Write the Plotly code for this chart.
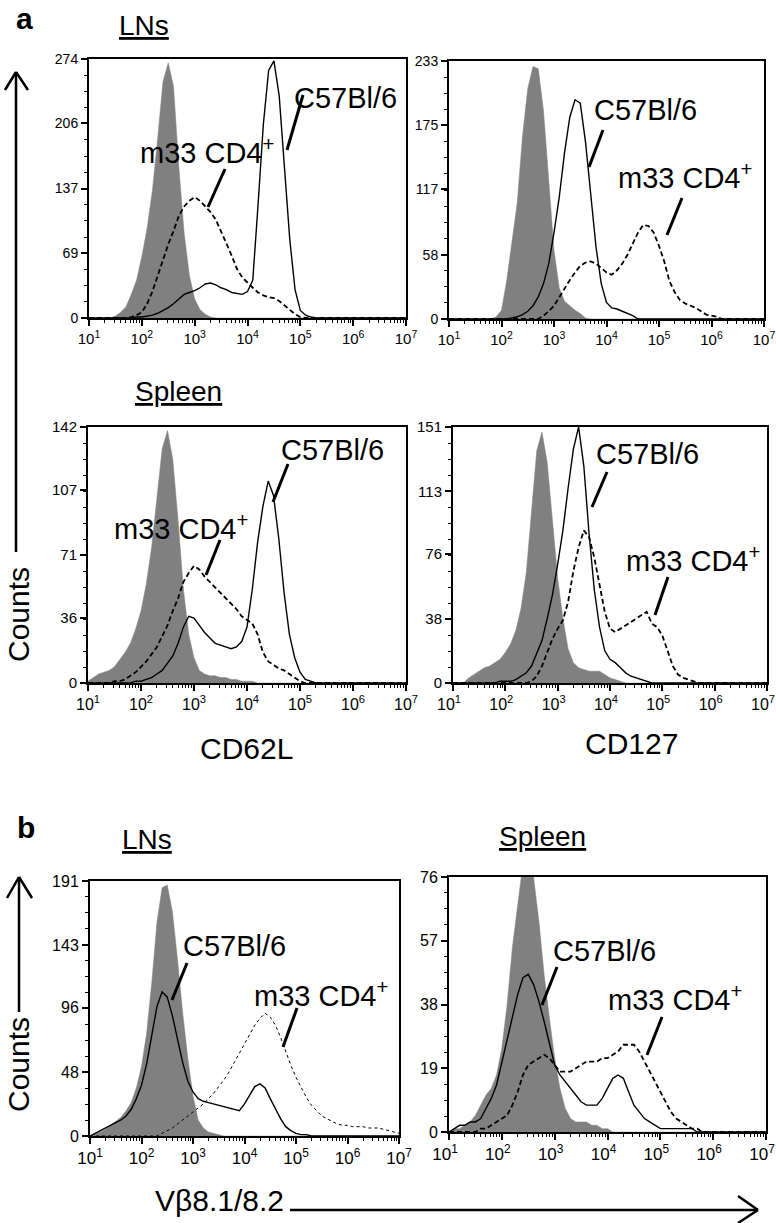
import plotly.graph_objects as go

W, H = 776, 1223

# log10 fluorescence bin centres (10^1 .. 10^7)
BINS = [1.0, 1.1, 1.2, 1.3, 1.4, 1.5, 1.6, 1.7, 1.8, 1.9,
        2.0, 2.1, 2.2, 2.3, 2.4, 2.5, 2.6, 2.7, 2.8, 2.9,
        3.0, 3.1, 3.2, 3.3, 3.4, 3.5, 3.6, 3.7, 3.8, 3.9,
        4.0, 4.1, 4.2, 4.3, 4.4, 4.5, 4.6, 4.7, 4.8, 4.9,
        5.0, 5.1, 5.2, 5.3, 5.4, 5.5, 5.6, 5.7, 5.8, 5.9,
        6.0, 6.1, 6.2, 6.3, 6.4, 6.5, 6.6, 6.7, 6.8, 6.9,
        7.0]

XTICK_EXP = [1, 2, 3, 4, 5, 6, 7]
XTICK_TEXT = ["10<sup>1</sup>", "10<sup>2</sup>", "10<sup>3</sup>", "10<sup>4</sup>",
              "10<sup>5</sup>", "10<sup>6</sup>", "10<sup>7</sup>"]

# (a) LNs, CD62L
LN_CD62L_CTRL = [0, 0, 0, 0, 0, 2, 6, 12, 25, 40,
                 65, 95, 135, 190, 250, 270, 245, 160, 90, 45,
                 20, 9, 4, 1, 0, 0, 0, 0, 0, 0,
                 0, 0, 0, 0, 0, 0, 0, 0, 0, 0,
                 0, 0, 0, 0, 0, 0, 0, 0, 0, 0,
                 0, 0, 0, 0, 0, 0, 0, 0, 0, 0,
                 0]
LN_CD62L_B6 = [0, 0, 0, 0, 0, 0, 0, 0, 0, 1,
               1, 2, 3, 5, 8, 11, 15, 20, 25, 27,
               29, 32, 36, 37, 35, 32, 30, 27, 26, 25,
               28, 40, 120, 205, 262, 272, 235, 160, 83, 30,
               8, 3, 1, 0, 0, 0, 0, 0, 0, 0,
               0, 0, 0, 0, 0, 0, 0, 0, 0, 0,
               0]
LN_CD62L_M33 = [0, 0, 0, 0, 0, 0, 0, 0, 1, 3,
                6, 15, 28, 45, 62, 78, 92, 108, 118, 124,
                128, 124, 118, 112, 104, 92, 79, 66, 52, 43,
                37, 32, 27, 24, 22, 21, 18, 13, 8, 4,
                1, 0, 0, 0, 0, 0, 0, 0, 0, 0,
                0, 0, 0, 0, 0, 0, 0, 0, 0, 0,
                0]
LN_CD62L_YTICKS = [0, 69, 137, 206, 274]

# (a) LNs, CD127
LN_CD127_CTRL = [0, 0, 0, 0, 0, 0, 0, 0, 0, 2,
                 8, 35, 68, 105, 165, 208, 228, 226, 188, 125,
                 62, 28, 16, 12, 8, 5, 1, 0, 0, 0,
                 0, 0, 0, 0, 0, 0, 0, 0, 0, 0,
                 0, 0, 0, 0, 0, 0, 0, 0, 0, 0,
                 0, 0, 0, 0, 0, 0, 0, 0, 0, 0,
                 0]
LN_CD127_B6 = [0, 0, 0, 0, 0, 0, 0, 0, 0, 0,
               0, 0, 1, 2, 4, 7, 12, 20, 32, 50,
               78, 110, 150, 182, 198, 195, 160, 112, 65, 32,
               15, 10, 9, 7, 5, 3, 0, 0, 0, 0,
               0, 0, 0, 0, 0, 0, 0, 0, 0, 0,
               0, 0, 0, 0, 0, 0, 0, 0, 0, 0,
               0]
LN_CD127_M33 = [0, 0, 0, 0, 0, 0, 0, 0, 0, 0,
                0, 0, 0, 0, 0, 0, 0, 0, 3, 7,
                12, 20, 28, 35, 42, 48, 51, 52, 50, 46,
                42, 40, 44, 50, 58, 68, 78, 85, 84, 78,
                66, 52, 34, 24, 17, 14, 12, 10, 7, 4,
                3, 2, 0, 0, 0, 0, 0, 0, 0, 0,
                0]
LN_CD127_YTICKS = [0, 58, 117, 175, 233]

# (a) Spleen, CD62L
SP_CD62L_CTRL = [1, 3, 5, 6, 7, 9, 13, 17, 22, 30,
                 40, 55, 75, 103, 130, 140, 124, 90, 52, 27,
                 14, 7, 5, 4, 4, 3, 3, 2, 2, 1,
                 1, 1, 0, 0, 0, 0, 0, 0, 0, 0,
                 0, 0, 0, 0, 0, 0, 0, 0, 0, 0,
                 0, 0, 0, 0, 0, 0, 0, 0, 0, 0,
                 0]
SP_CD62L_B6 = [0, 0, 0, 0, 0, 0, 0, 0, 0, 1,
               1, 2, 3, 5, 7, 11, 15, 22, 31, 37,
               36, 32, 28, 25, 22, 21, 20, 19, 20, 23,
               31, 52, 78, 98, 112, 104, 80, 50, 27, 14,
               6, 2, 1, 0, 0, 0, 0, 0, 0, 0,
               0, 0, 0, 0, 0, 0, 0, 0, 0, 0,
               0]
SP_CD62L_M33 = [0, 0, 0, 0, 0, 1, 1, 2, 4, 6,
                9, 12, 16, 20, 26, 32, 40, 47, 56, 61,
                65, 63, 59, 56, 53, 50, 47, 44, 41, 37,
                35, 33, 27, 17, 12, 10, 8, 7, 5, 3,
                1, 0, 0, 0, 0, 0, 0, 0, 0, 0,
                0, 0, 0, 0, 0, 0, 0, 0, 0, 0,
                0]
SP_CD62L_YTICKS = [0, 36, 71, 107, 142]

# (a) Spleen, CD127
SP_CD127_CTRL = [0, 0, 0, 3, 5, 7, 9, 10, 12, 14,
                 18, 23, 31, 44, 65, 100, 137, 148, 130, 96,
                 62, 38, 20, 12, 9, 8, 7, 7, 7, 5,
                 3, 2, 1, 0, 0, 0, 0, 0, 0, 0,
                 0, 0, 0, 0, 0, 0, 0, 0, 0, 0,
                 0, 0, 0, 0, 0, 0, 0, 0, 0, 0,
                 0]
SP_CD127_B6 = [0, 0, 0, 0, 0, 0, 0, 0, 0, 1,
               1, 1, 2, 4, 6, 10, 17, 25, 38, 52,
               70, 90, 115, 138, 151, 128, 88, 55, 33, 19,
               14, 12, 9, 6, 4, 3, 2, 1, 0, 0,
               0, 0, 0, 0, 0, 0, 0, 0, 0, 0,
               0, 0, 0, 0, 0, 0, 0, 0, 0, 0,
               0]
SP_CD127_M33 = [0, 0, 0, 0, 0, 0, 0, 0, 0, 0,
                0, 0, 0, 0, 0, 1, 4, 10, 18, 26,
                32, 37, 48, 66, 80, 90, 86, 74, 58, 42,
                32, 30, 32, 34, 36, 38, 40, 42, 35, 33,
                28, 19, 10, 5, 3, 2, 1, 0, 0, 0,
                0, 0, 0, 0, 0, 0, 0, 0, 0, 0,
                0]
SP_CD127_YTICKS = [0, 38, 76, 113, 151]

# (b) LNs, Vbeta8.1/8.2
LN_VB_CTRL = [0, 2, 3, 5, 8, 11, 14, 19, 25, 36,
              52, 77, 115, 160, 186, 188, 168, 132, 92, 58,
              30, 12, 6, 3, 2, 1, 0, 0, 0, 0,
              0, 0, 0, 0, 0, 0, 0, 0, 0, 0,
              0, 0, 0, 0, 0, 0, 0, 0, 0, 0,
              0, 0, 0, 0, 0, 0, 0, 0, 0, 0,
              0]
LN_VB_B6 = [0, 2, 4, 6, 8, 10, 12, 15, 20, 28,
            38, 54, 75, 97, 108, 104, 90, 72, 55, 41,
            33, 28, 26, 25, 24, 23, 22, 21, 20, 19,
            24, 31, 37, 39, 36, 28, 20, 13, 7, 4,
            2, 1, 1, 0, 0, 0, 0, 0, 0, 0,
            0, 0, 0, 0, 0, 0, 0, 0, 0, 0,
            0]
LN_VB_M33 = [0, 0, 0, 0, 0, 0, 0, 0, 0, 0,
             0, 0, 0, 0, 2, 4, 6, 9, 12, 15,
             18, 21, 24, 28, 32, 37, 42, 48, 55, 62,
             70, 77, 83, 88, 92, 89, 83, 74, 63, 53,
             44, 36, 29, 23, 19, 15, 13, 11, 9, 8,
             8, 7, 7, 7, 6, 6, 6, 5, 4, 3,
             2]
LN_VB_YTICKS = [0, 48, 96, 143, 191]

# (b) Spleen, Vbeta8.1/8.2
SP_VB_CTRL = [0, 1, 1, 2, 3, 5, 8, 11, 13, 17,
              25, 38, 55, 68, 80, 84, 76, 63, 47, 34,
              22, 13, 7, 4, 3, 3, 3, 2, 2, 1,
              1, 0, 0, 0, 0, 0, 0, 0, 0, 0,
              0, 0, 0, 0, 0, 0, 0, 0, 0, 0,
              0, 0, 0, 0, 0, 0, 0, 0, 0, 0,
              0]
SP_VB_B6 = [0, 1, 2, 2, 3, 3, 4, 7, 10, 14,
            21, 28, 35, 41, 46, 47, 44, 39, 33, 26,
            20, 17, 15, 13, 11, 9, 8, 8, 8, 10,
            13, 16, 17, 16, 12, 8, 6, 4, 3, 2,
            1, 1, 1, 1, 1, 1, 1, 0, 0, 0,
            0, 0, 0, 0, 0, 0, 0, 0, 0, 0,
            0]
SP_VB_M33 = [0, 0, 0, 0, 0, 0, 1, 1, 2, 3,
             4, 5, 8, 12, 17, 20, 21, 22, 23, 22,
             20, 18, 18, 18, 19, 20, 21, 21, 21, 22,
             22, 23, 24, 26, 26, 26, 24, 21, 18, 15,
             12, 9, 6, 4, 3, 2, 1, 1, 0, 0,
             0, 0, 0, 0, 0, 0, 0, 0, 0, 0,
             0]
SP_VB_YTICKS = [0, 19, 38, 57, 76]

FONT = "Liberation Sans, Arial, Helvetica, sans-serif"
GREY = "#808080"


def px(x):
    return x / W


def py(y):
    return 1 - y / H


# panel boxes in pixels: left, right, top, bottom; tick font size; x label shift
panels = [
    (LN_CD62L_CTRL, LN_CD62L_M33, LN_CD62L_B6, LN_CD62L_YTICKS, (89, 406, 59, 318), 14, 0),
    (LN_CD127_CTRL, LN_CD127_M33, LN_CD127_B6, LN_CD127_YTICKS, (449, 764, 61, 319), 14, 0),
    (SP_CD62L_CTRL, SP_CD62L_M33, SP_CD62L_B6, SP_CD62L_YTICKS, (88, 406, 427, 683), 15, 0),
    (SP_CD127_CTRL, SP_CD127_M33, SP_CD127_B6, SP_CD127_YTICKS, (453, 767, 427, 683), 15, -4),
    (LN_VB_CTRL, LN_VB_M33, LN_VB_B6, LN_VB_YTICKS, (90, 399, 881, 1136), 16, 0),
    (SP_VB_CTRL, SP_VB_M33, SP_VB_B6, SP_VB_YTICKS, (449, 766, 877, 1132), 16, -4),
]

xs = [10 ** b for b in BINS]
fig = go.Figure()
layout = {}
for i, (ctrl, m33, b6, yticks, box, fsize, shift) in enumerate(panels, start=1):
    sx = "" if i == 1 else str(i)
    l, r, t, b = box
    thin_dash = i == 5
    fig.add_trace(go.Scatter(x=xs, y=ctrl, mode="lines", fill="tozeroy",
                             fillcolor=GREY, line=dict(color=GREY, width=0.5),
                             xaxis="x" + sx, yaxis="y" + sx, showlegend=False))
    fig.add_trace(go.Scatter(x=xs, y=m33, mode="lines",
                             line=dict(color="black", width=1.0 if thin_dash else 1.8,
                                       dash="3px,3px" if thin_dash else "5px,3px"),
                             xaxis="x" + sx, yaxis="y" + sx, showlegend=False))
    fig.add_trace(go.Scatter(x=xs, y=b6, mode="lines",
                             line=dict(color="black", width=1.4),
                             xaxis="x" + sx, yaxis="y" + sx, showlegend=False))
    ymax = yticks[-1]
    layout["xaxis" + sx] = dict(
        type="log", range=[1, 7], domain=[px(l), px(r)], anchor="y" + sx,
        automargin=False, ticklabeloverflow="allow", ticklabelshift=shift,
        showgrid=False, zeroline=False, showline=True, linecolor="black",
        linewidth=2, mirror=True, ticks="outside", ticklen=6, tickwidth=1.5,
        tickcolor="black", tickmode="array",
        tickvals=[10 ** e for e in XTICK_EXP], ticktext=XTICK_TEXT,
        tickfont=dict(family=FONT, size=fsize + 1, color="black"),
        minor=dict(ticks="outside", ticklen=3, tickwidth=1, tickcolor="black",
                   dtick="D1", showgrid=False),
    )
    layout["yaxis" + sx] = dict(
        range=[0, ymax], domain=[py(b), py(t)], anchor="x" + sx,
        automargin=False,
        showgrid=False, zeroline=False, showline=True, linecolor="black",
        linewidth=2, mirror=True, ticks="outside", ticklen=6, tickwidth=1.5,
        tickcolor="black", tickmode="array", tickvals=yticks,
        ticktext=[str(v) for v in yticks],
        tickfont=dict(family=FONT, size=fsize, color="black"),
        minor=dict(ticks="outside", ticklen=3, tickwidth=1, tickcolor="black",
                   tick0=0, dtick=ymax / 16, showgrid=False),
    )


def label(text, x, y, size=29, **kw):
    return dict(text=text, x=px(x), y=py(y), xref="paper", yref="paper",
                showarrow=False, xanchor="center", yanchor="middle",
                font=dict(family=FONT, size=size, color="black", **kw))


annotations = [
    label("<b>a</b>", 24, 19, 30),
    label("<b>b</b>", 26, 827, 30),
    label("LNs", 144, 25, 28, lineposition="under"),
    label("Spleen", 178, 391, 28, lineposition="under"),
    label("LNs", 147, 839, 28, lineposition="under"),
    label("Spleen", 542, 836, 28, lineposition="under"),
    label("CD62L", 247, 748, 30),
    label("CD127", 631, 743, 30),
    label("V\u03b28.1/8.2", 219, 1200, 30),
    dict(label("Counts", 18, 615, 30), textangle=-90),
    dict(label("Counts", 18, 1065, 30), textangle=-90),
    label("C57Bl/6", 345, 98),
    label("m33 CD4<sup>+</sup>", 207, 151),
    label("C57Bl/6", 645, 110),
    label("m33 CD4<sup>+</sup>", 685, 176),
    label("C57Bl/6", 332, 450),
    label("m33 CD4<sup>+</sup>", 181, 527),
    label("C57Bl/6", 647, 454),
    label("m33 CD4<sup>+</sup>", 693, 559),
    label("C57Bl/6", 234, 946),
    label("m33 CD4<sup>+</sup>", 321, 994),
    label("C57Bl/6", 604, 951),
    label("m33 CD4<sup>+</sup>", 675, 998),
]

# pointer strokes and axis-title arrows (pixel coordinates)
strokes = [
    ((303, 95), (287, 150), 3), ((225, 169), (208, 207), 3),
    ((603, 130), (589, 167), 3), ((682, 198), (667, 235), 3),
    ((288, 464), (273, 502), 3), ((220, 540), (206, 575), 3),
    ((607, 472), (592, 507), 3), ((668, 577), (655, 615), 3),
    ((187, 963), (172, 1000), 3), ((297, 1008), (283, 1047), 3),
    ((557, 967), (542, 1005), 3), ((662, 1017), (647, 1055), 3),
    ((16, 552), (16, 72), 2.5), ((5, 90), (16, 72), 2.5), ((28, 90), (16, 72), 2.5),
    ((19, 1012), (19, 877), 2.5), ((7, 898), (19, 877), 2.5), ((32, 898), (19, 877), 2.5),
    ((290, 1210), (758, 1210), 2.5), ((738, 1196), (758, 1210), 2.5),
    ((738, 1223), (758, 1210), 2.5),
]
shapes = [dict(type="line", xref="paper", yref="paper",
               x0=px(a[0]), y0=py(a[1]), x1=px(c[0]), y1=py(c[1]),
               line=dict(color="black", width=w))
          for a, c, w in strokes]

fig.update_layout(
    width=W, height=H, margin=dict(l=0, r=0, t=0, b=0, autoexpand=False),
    paper_bgcolor="white", plot_bgcolor="white",
    annotations=annotations, shapes=shapes, showlegend=False,
    **layout,
)
# drop the default page margin so the figure fills the window exactly
fig.write_html("out.html", config={"displayModeBar": False},
               post_script="document.body.style.margin='0';"
                           "document.body.style.overflow='hidden';")
